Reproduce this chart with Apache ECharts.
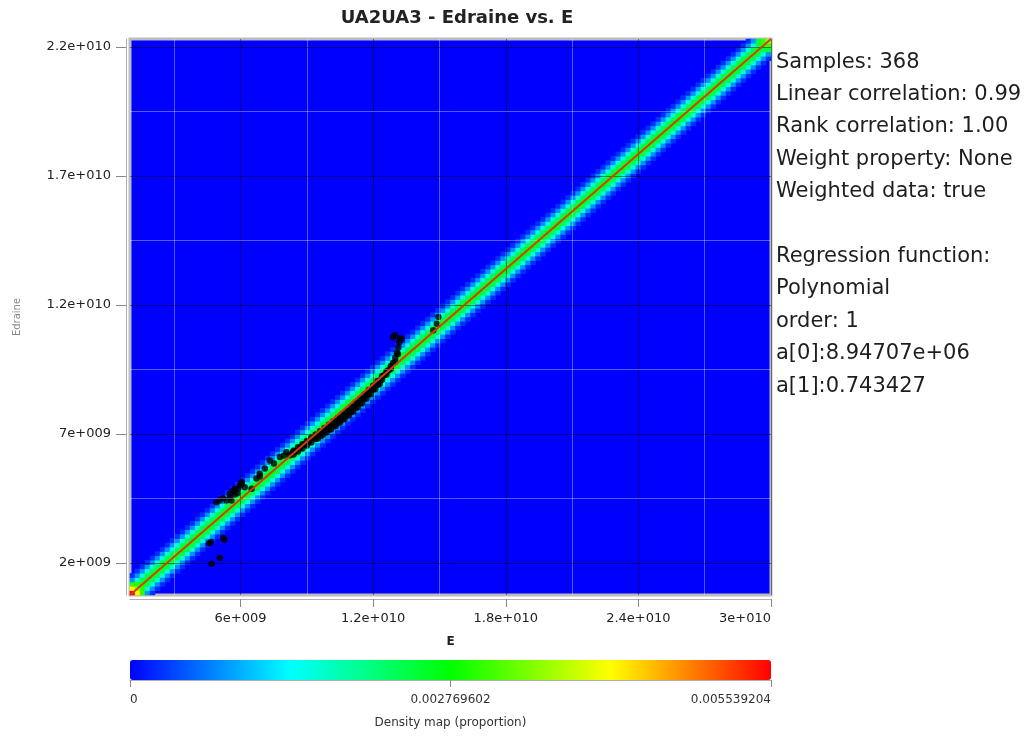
<!DOCTYPE html>
<html>
<head>
<meta charset="utf-8">
<script src="https://cdn.jsdelivr.net/npm/echarts@6/dist/echarts.min.js"></script>
<style>
  html, body { margin: 0; padding: 0; background: #ffffff; }
  #chart { width: 1031px; height: 738px; }
</style>
</head>
<body>
<div id="chart"></div>
<script>
// ---- chart data ----
const titleText = 'UA2UA3 - Edraine vs. E';
const xName = 'E';
const yName = 'Edraine';

// E range shown on the x axis; regression y = a[0] + a[1] * x
const xRange = [1e9, 3e10];
const regressionCoeffs = [8.94707e6, 0.743427];

const xTicks = [6e9, 1.2e10, 1.8e10, 2.4e10, 3e10];
const xTickLabels = ['6e+009', '1.2e+010', '1.8e+010', '2.4e+010', '3e+010'];
const xMinorLines = [3e9, 9e9, 1.5e10, 2.1e10, 2.7e10];

const yTicks = [2e9, 7e9, 1.2e10, 1.7e10, 2.2e10];
const yTickLabels = ['2e+009', '7e+009', '1.2e+010', '1.7e+010', '2.2e+010'];
const yMinorLines = [4.5e9, 9.5e9, 1.45e10, 1.95e10];

// density map (proportion)
const densityMax = 0.005539204;
const densityTicks = [0, 0.002769602, 0.005539204];
const densityTickLabels = ['0', '0.002769602', '0.005539204'];
const densityCells = 128;                 // cells per side
// density by cell distance from the regression diagonal (0 = on the line)
const bandProfile = [0.0029, 0.0024, 0.0016, 0.0008, 0.00025];
// cells near the two ends of the band: [column, row, density]
const cornerCells = [
  [0, 0, 0.005539], [1, 0, 0.0042], [0, 1, 0.0042], [1, 1, 0.0036],
  [2, 0, 0.0030], [0, 2, 0.0030], [2, 1, 0.0030], [1, 2, 0.0030],
  [127, 127, 0.0036], [126, 127, 0.0031], [127, 126, 0.0031],
  [126, 126, 0.0031], [125, 127, 0.0024], [127, 125, 0.0024]
];

// sample points [E, Edraine]
const samples = [
  // low outliers
  [4.58e9, 2.76e9], [4.66e9, 2.80e9], [5.26e9, 2.89e9], [5.22e9, 2.96e9],
  [5.06e9, 2.19e9], [4.69e9, 1.96e9],
  // left cluster
  [4.91e9, 4.35e9], [5.06e9, 4.43e9], [5.37e9, 4.42e9], [5.52e9, 4.54e9],
  [5.59e9, 4.42e9], [5.52e9, 4.68e9], [5.66e9, 4.80e9], [5.74e9, 4.65e9],
  [5.74e9, 4.87e9], [5.85e9, 4.70e9], [5.89e9, 4.87e9], [5.97e9, 5.00e9],
  [6.05e9, 5.13e9], [6.05e9, 5.09e9], [6.19e9, 4.93e9], [5.20e9, 4.50e9],
  [6.50e9, 4.87e9],
  // sparse run above the line
  [6.72e9, 5.27e9], [6.87e9, 5.35e9], [6.87e9, 5.45e9], [7.10e9, 5.66e9],
  [7.33e9, 5.97e9], [7.51e9, 5.85e9], [7.78e9, 6.10e9], [7.96e9, 6.16e9],
  [8.08e9, 6.29e9], [8.23e9, 6.17e9], [8.37e9, 6.28e9],
  // dense band, upper edge
  [8.4e9, 6.35e9], [8.6e9, 6.48e9], [8.8e9, 6.60e9], [9.0e9, 6.72e9],
  [9.2e9, 6.85e9], [9.4e9, 6.98e9], [9.6e9, 7.10e9], [9.8e9, 7.23e9],
  [10.0e9, 7.35e9], [10.2e9, 7.49e9], [10.4e9, 7.62e9], [10.6e9, 7.76e9],
  [10.8e9, 7.90e9], [11.0e9, 8.05e9], [11.2e9, 8.21e9], [11.4e9, 8.36e9],
  [11.6e9, 8.53e9], [11.8e9, 8.70e9], [12.0e9, 8.87e9], [12.2e9, 9.05e9],
  [12.4e9, 9.23e9], [12.6e9, 9.42e9], [12.8e9, 9.63e9],
  // dense band, middle
  [8.5e9, 6.34e9], [8.7e9, 6.46e9], [8.9e9, 6.58e9], [9.1e9, 6.70e9],
  [9.3e9, 6.83e9], [9.5e9, 6.95e9], [9.7e9, 7.08e9], [9.9e9, 7.20e9],
  [10.1e9, 7.32e9], [10.3e9, 7.46e9], [10.5e9, 7.59e9], [10.7e9, 7.73e9],
  [10.9e9, 7.88e9], [11.1e9, 8.03e9], [11.3e9, 8.19e9], [11.5e9, 8.35e9],
  [11.7e9, 8.53e9], [11.9e9, 8.70e9], [12.1e9, 8.89e9], [12.3e9, 9.07e9],
  [12.5e9, 9.27e9], [12.7e9, 9.47e9],
  // dense band, lower edge
  [8.4e9, 6.20e9], [8.6e9, 6.32e9], [8.8e9, 6.43e9], [9.0e9, 6.55e9],
  [9.2e9, 6.67e9], [9.4e9, 6.80e9], [9.6e9, 6.92e9], [9.8e9, 7.04e9],
  [10.0e9, 7.16e9], [10.2e9, 7.29e9], [10.4e9, 7.42e9], [10.6e9, 7.56e9],
  [10.8e9, 7.70e9], [11.0e9, 7.85e9], [11.2e9, 8.01e9], [11.4e9, 8.18e9],
  [11.6e9, 8.35e9], [11.8e9, 8.53e9], [12.0e9, 8.71e9], [12.2e9, 8.90e9],
  [12.4e9, 9.10e9], [12.6e9, 9.30e9], [12.8e9, 9.53e9],
  // dense band, lowest points
  [9.5e9, 6.82e9], [9.7e9, 6.94e9], [9.9e9, 7.06e9], [10.1e9, 7.18e9],
  [10.3e9, 7.31e9], [10.5e9, 7.44e9], [10.7e9, 7.58e9], [10.9e9, 7.72e9],
  [11.1e9, 7.87e9], [11.3e9, 8.03e9], [11.5e9, 8.19e9], [11.7e9, 8.37e9],
  [11.9e9, 8.55e9], [12.1e9, 8.74e9], [12.3e9, 8.94e9],
  // upturn at the high end
  [12.9e9, 9.75e9], [13.0e9, 9.80e9], [13.0e9, 9.95e9], [13.08e9, 10.15e9],
  [13.12e9, 10.10e9], [13.14e9, 10.35e9], [13.18e9, 10.55e9], [13.22e9, 10.70e9],
  [13.29e9, 10.69e9], [12.99e9, 10.82e9], [12.90e9, 10.75e9],
  // upper outliers
  [14.72e9, 11.02e9], [14.88e9, 11.27e9], [14.95e9, 11.53e9]
];

const statsLines = [
  'Samples: 368',
  'Linear correlation: 0.99',
  'Rank correlation: 1.00',
  'Weight property: None',
  'Weighted data: true',
  '',
  'Regression function:',
  'Polynomial',
  'order: 1',
  'a[0]:8.94707e+06',
  'a[1]:0.743427'
];

// ---- derived structures ----
const regress = x => regressionCoeffs[0] + regressionCoeffs[1] * x;
const yRange = [regress(xRange[0]), regress(xRange[1])];
const regressionLine = xRange.map(x => [x, regress(x)]);

const cellIndex = Array.from({ length: densityCells }, (_, i) => i);
const densityMap = new Map();
for (let i = 0; i < densityCells; i++) {
  for (let k = -(bandProfile.length - 1); k < bandProfile.length; k++) {
    const j = i + k;
    if (j >= 0 && j < densityCells) densityMap.set(i + ',' + j, bandProfile[Math.abs(k)]);
  }
}
cornerCells.forEach(([i, j, v]) => densityMap.set(i + ',' + j, v));
const densityData = [];
densityMap.forEach((v, key) => {
  const [i, j] = key.split(',').map(Number);
  densityData.push([i, j, v]);
});

const labelFor = (ticks, labels) => value => {
  for (let k = 0; k < ticks.length; k++) {
    if (Math.abs(ticks[k] - value) <= Math.abs(ticks[k]) * 1e-6 + 1e-12) return labels[k];
  }
  return '';
};

const majorLine = { color: 'rgba(0,0,0,0.45)', width: 1, type: 'solid' };
const minorLine = { color: 'rgba(255,255,255,0.34)', width: 1, type: 'solid' };
const gridLineData = [].concat(
  xTicks.map(v => ({ xAxis: v, lineStyle: majorLine })),
  xMinorLines.map(v => ({ xAxis: v, lineStyle: minorLine })),
  yTicks.map(v => ({ yAxis: v, lineStyle: majorLine })),
  yMinorLines.map(v => ({ yAxis: v, lineStyle: minorLine }))
);

const FONT = 'DejaVu Sans';
const PLOT = { left: 130, top: 39, width: 641, height: 556 };

const chart = echarts.init(document.getElementById('chart'), null, { renderer: 'canvas' });
chart.setOption({
  animation: false,
  backgroundColor: '#ffffff',
  textStyle: { fontFamily: FONT },
  title: {
    text: titleText,
    left: 452,
    top: 4,
    textAlign: 'center',
    textStyle: { fontFamily: FONT, fontSize: 18, fontWeight: 'bold', color: '#222' }
  },
  grid: [
    Object.assign({ show: true, backgroundColor: '#0000ff', borderColor: '#bcbcbc', borderWidth: 3 }, PLOT),
    { left: 130, top: 660, width: 641, height: 20, show: false }
  ],
  xAxis: [
    {
      type: 'value', gridIndex: 0, min: xRange[0], max: xRange[1], z: 3,
      name: xName, nameLocation: 'middle', nameGap: 37,
      nameTextStyle: { fontFamily: FONT, fontSize: 12, fontWeight: 'bold', color: '#222' },
      offset: 4,
      axisLine: { show: true, lineStyle: { color: '#b0b0b0', width: 1 } },
      axisTick: { show: true, length: 8, customValues: xTicks, lineStyle: { color: '#888' } },
      axisLabel: {
        customValues: xTicks, formatter: labelFor(xTicks, xTickLabels), alignMaxLabel: 'right',
        fontFamily: FONT, fontSize: 13, color: '#222', margin: 13
      },
      splitLine: { show: false }
    },
    {
      type: 'category', gridIndex: 0, data: cellIndex, show: false
    },
    {
      type: 'value', gridIndex: 1, min: 0, max: densityMax,
      name: 'Density map (proportion)', nameLocation: 'middle', nameGap: 34,
      nameTextStyle: { fontFamily: FONT, fontSize: 12, color: '#333' },
      offset: 3,
      axisLine: { show: true, lineStyle: { color: '#b0b0b0', width: 1 } },
      axisTick: { show: true, length: 7, customValues: densityTicks, lineStyle: { color: '#888' } },
      axisLabel: {
        customValues: densityTicks, formatter: labelFor(densityTicks, densityTickLabels),
        alignMinLabel: 'left', alignMaxLabel: 'right',
        fontFamily: FONT, fontSize: 12, color: '#333', margin: 11
      },
      splitLine: { show: false }
    }
  ],
  yAxis: [
    {
      type: 'value', gridIndex: 0, min: yRange[0], max: yRange[1], z: 3,
      name: yName, nameLocation: 'middle', nameGap: 104, nameRotate: 90,
      nameTextStyle: { fontFamily: FONT, fontSize: 10, color: '#888' },
      offset: 4,
      axisLine: { show: true, lineStyle: { color: '#b0b0b0', width: 1 } },
      axisTick: { show: true, length: 10, customValues: yTicks, lineStyle: { color: '#888' } },
      axisLabel: {
        customValues: yTicks, formatter: labelFor(yTicks, yTickLabels),
        fontFamily: FONT, fontSize: 13, color: '#222', margin: 15
      },
      splitLine: { show: false }
    },
    {
      type: 'category', gridIndex: 0, data: cellIndex, show: false
    },
    {
      type: 'value', gridIndex: 1, show: false
    }
  ],
  visualMap: {
    type: 'continuous',
    seriesIndex: 0,
    min: 0,
    max: densityMax,
    orient: 'horizontal',
    left: 130,
    top: 660,
    itemWidth: 20,
    itemHeight: 641,
    padding: 0,
    text: null,
    showLabel: false,
    calculable: false,
    hoverLink: false,
    inRange: { color: ['#0000ff', '#00ffff', '#00ff00', '#ffff00', '#ff0000'] }
  },
  graphic: [{
    type: 'text',
    left: 776,
    top: 46,
    style: {
      text: statsLines.join('\n'),
      font: '21px "' + FONT + '"',
      lineHeight: 32.4,
      fill: '#1e1e1e'
    }
  }],
  series: [
    {
      type: 'heatmap',
      xAxisIndex: 1,
      yAxisIndex: 1,
      data: densityData,
      z: 1,
      progressive: 0,
      silent: true
    },
    {
      type: 'line',
      xAxisIndex: 0,
      yAxisIndex: 0,
      data: [],
      z: 3,
      silent: true,
      markLine: {
        silent: true,
        symbol: ['none', 'none'],
        label: { show: false },
        animation: false,
        data: gridLineData
      }
    },
    {
      type: 'scatter',
      xAxisIndex: 0,
      yAxisIndex: 0,
      data: samples,
      z: 4,
      symbol: 'circle',
      symbolSize: 6.5,
      itemStyle: { color: '#000000' },
      silent: true
    },
    {
      type: 'line',
      xAxisIndex: 0,
      yAxisIndex: 0,
      data: regressionLine,
      z: 5,
      symbol: 'none',
      lineStyle: { color: '#d83a10', width: 2 },
      silent: true
    }
  ]
});
</script>
</body>
</html>
